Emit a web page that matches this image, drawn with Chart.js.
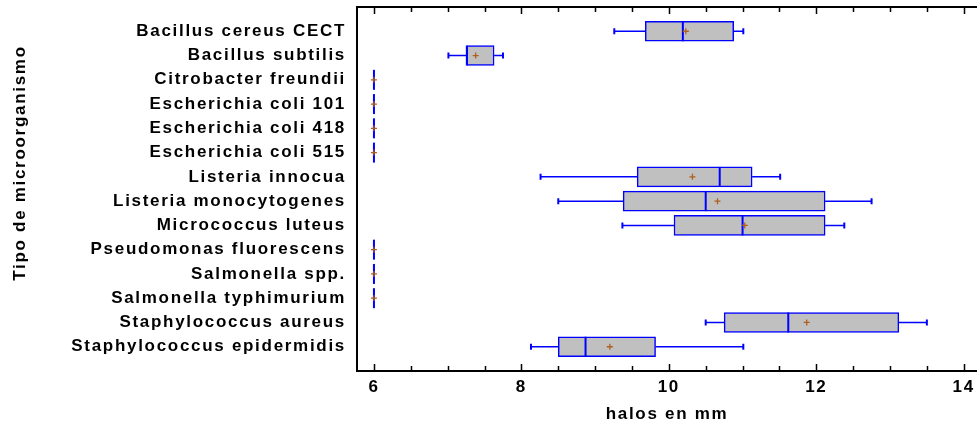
<!DOCTYPE html>
<html>
<head>
<meta charset="utf-8">
<script src="https://cdn.jsdelivr.net/npm/chart.js@4"></script>
<style>
  html, body { margin: 0; padding: 0; background: #fff; }
  #wrap { width: 977px; height: 425px; }
</style>
</head>
<body>
<div id="wrap"><canvas id="myChart"></canvas></div>
<script>
// Box plot data (halos en mm)
var categories = [
    'Bacillus cereus CECT', 'Bacillus subtilis', 'Citrobacter freundii',
    'Escherichia coli 101', 'Escherichia coli 418', 'Escherichia coli 515',
    'Listeria innocua', 'Listeria monocytogenes', 'Micrococcus luteus',
    'Pseudomonas fluorescens', 'Salmonella spp.', 'Salmonella typhimurium',
    'Staphylococcus aureus', 'Staphylococcus epidermidis'
];
var whiskerLow  = [9.26, 7.01, 6, 6, 6, 6, 8.26, 8.50, 9.37, 6, 6, 6, 10.50, 8.13];
var q1          = [9.68, 7.26, 6, 6, 6, 6, 9.57, 9.38, 10.07, 6, 6, 6, 10.75, 8.50];
var medians     = [10.19, 7.26, 6, 6, 6, 6, 10.69, 10.50, 11.00, 6, 6, 6, 11.62, 8.87];
var q3          = [10.88, 7.63, 6, 6, 6, 6, 11.13, 12.12, 12.12, 6, 6, 6, 13.12, 9.82];
var whiskerHigh = [11.01, 7.75, 6, 6, 6, 6, 11.51, 12.75, 12.38, 6, 6, 6, 13.50, 11.01];
var means       = [10.23, 7.38, 6, 6, 6, 6, 10.32, 10.66, 11.03, 6, 6, 6, 11.87, 9.20];
var xTickLabels = [6, 8, 10, 12, 14];

var xTitle = 'halos en mm';
var yTitle = 'Tipo de microorganismo';

var FONT = 'Liberation Sans, Arial, sans-serif';
var BLUE = '#0000ff';

// letter spacing like the original rendering
var spacing = {
    id: 'spacing',
    beforeLayout: function (chart) { chart.ctx.letterSpacing = '1.7px'; },
    beforeDraw: function (chart) { chart.ctx.letterSpacing = '1.7px'; }
};

// whiskers, medians, means
var boxExtras = {
    id: 'boxExtras',
    afterDatasetsDraw: function (chart) {
        var ctx = chart.ctx;
        var xs = chart.scales.x, ys = chart.scales.y;
        var meta = chart.getDatasetMeta(0);
        ctx.save();
        ctx.strokeStyle = BLUE;
        categories.forEach(function (c, i) {
            var cy = ys.getPixelForValue(i);
            var half = meta.data[i].height / 2;
            var xl = xs.getPixelForValue(whiskerLow[i]);
            var xq1 = xs.getPixelForValue(q1[i]);
            var xq3 = xs.getPixelForValue(q3[i]);
            var xh = xs.getPixelForValue(whiskerHigh[i]);
            var xm = xs.getPixelForValue(medians[i]);
            // whiskers + caps
            ctx.lineWidth = 1.5;
            ctx.beginPath();
            ctx.moveTo(xl, cy); ctx.lineTo(xq1, cy);
            ctx.moveTo(xq3, cy); ctx.lineTo(xh, cy);
            ctx.stroke();
            ctx.lineWidth = 2;
            ctx.beginPath();
            ctx.moveTo(xl, cy - 3); ctx.lineTo(xl, cy + 3);
            ctx.moveTo(xh, cy - 3); ctx.lineTo(xh, cy + 3);
            ctx.stroke();
            // median
            ctx.beginPath();
            ctx.moveTo(xm, cy - half); ctx.lineTo(xm, cy + half);
            ctx.stroke();
        });
        // means
        ctx.strokeStyle = '#b0601c';
        ctx.lineWidth = 1.3;
        categories.forEach(function (c, i) {
            var cy = ys.getPixelForValue(i);
            var mx = xs.getPixelForValue(means[i]);
            ctx.beginPath();
            ctx.moveTo(mx - 3, cy); ctx.lineTo(mx + 3, cy);
            ctx.moveTo(mx, cy - 3); ctx.lineTo(mx, cy + 3);
            ctx.stroke();
        });
        ctx.restore();
    }
};

// top border, inward ticks, y title
var frame = {
    id: 'frame',
    afterDraw: function (chart) {
        var ctx = chart.ctx, a = chart.chartArea, xs = chart.scales.x;
        ctx.save();
        ctx.strokeStyle = '#000';
        ctx.lineWidth = 2;
        ctx.beginPath();
        ctx.moveTo(a.left - 1, a.top); ctx.lineTo(a.right, a.top);
        ctx.stroke();
        ctx.lineWidth = 1.5;
        for (var v = xTickLabels[0]; v <= xTickLabels[xTickLabels.length - 1]; v += 0.5) {
            var px = Math.round(xs.getPixelForValue(v)) + 0.5;
            var len = xTickLabels.indexOf(v) >= 0 ? 7 : 5;
            ctx.beginPath();
            ctx.moveTo(px, a.top); ctx.lineTo(px, a.top + len);
            ctx.moveTo(px, a.bottom); ctx.lineTo(px, a.bottom - len);
            ctx.stroke();
        }
        ctx.fillStyle = '#000';
        ctx.font = 'bold 17px ' + FONT;
        ctx.textAlign = 'center';
        ctx.textBaseline = 'middle';
        ctx.translate(20, 163);
        ctx.rotate(-Math.PI / 2);
        ctx.fillText(yTitle, 0, 0);
        ctx.restore();
    }
};

var ctx = document.getElementById('myChart').getContext('2d');
var myChart = new Chart(ctx, {
    type: 'bar',
    data: {
        datasets: [{
            data: categories.map(function (c, i) {
                return { x: [q1[i], q3[i]], y: i };
            }),
            backgroundColor: '#c0c0c0',
            borderColor: BLUE,
            borderWidth: 1.5,
            borderSkipped: false,
            barThickness: 20
        }]
    },
    options: {
        indexAxis: 'y',
        responsive: true,
        maintainAspectRatio: false,
        animation: false,
        layout: { padding: { top: 7, left: 0, right: 0, bottom: 0 } },
        plugins: {
            legend: { display: false },
            tooltip: { enabled: false }
        },
        scales: {
            x: {
                type: 'linear',
                position: 'bottom',
                min: 5.77,
                max: 14.18,
                afterBuildTicks: function (s) {
                    s.ticks = xTickLabels.map(function (v) { return { value: v }; });
                },
                afterFit: function (s) {
                    s.height = 54;
                    s.paddingLeft = 0;
                    s.paddingRight = 0;
                },
                grid: { display: false, drawTicks: false },
                border: { display: true, color: '#000', width: 2 },
                ticks: {
                    color: '#000',
                    padding: 6,
                    maxRotation: 0,
                    font: { family: FONT, size: 17, weight: 'bold' }
                },
                title: {
                    display: true,
                    text: xTitle,
                    color: '#000',
                    padding: { top: 5, bottom: 0 },
                    font: { family: FONT, size: 17, weight: 'bold' }
                }
            },
            y: {
                type: 'linear',
                reverse: true,
                offset: false,
                min: -1,
                max: 14,
                afterBuildTicks: function (s) {
                    s.ticks = categories.map(function (c, i) { return { value: i }; });
                },
                afterFit: function (s) {
                    s.width = 357;
                    s.paddingTop = 0;
                    s.paddingBottom = 0;
                },
                grid: { display: false, drawTicks: false, offset: false },
                border: { display: true, color: '#000', width: 2 },
                ticks: {
                    color: '#000',
                    padding: 11,
                    autoSkip: false,
                    font: { family: FONT, size: 17, weight: 'bold' },
                    callback: function (v) { return categories[v]; }
                }
            }
        }
    },
    plugins: [spacing, boxExtras, frame]
});
</script>
</body>
</html>
